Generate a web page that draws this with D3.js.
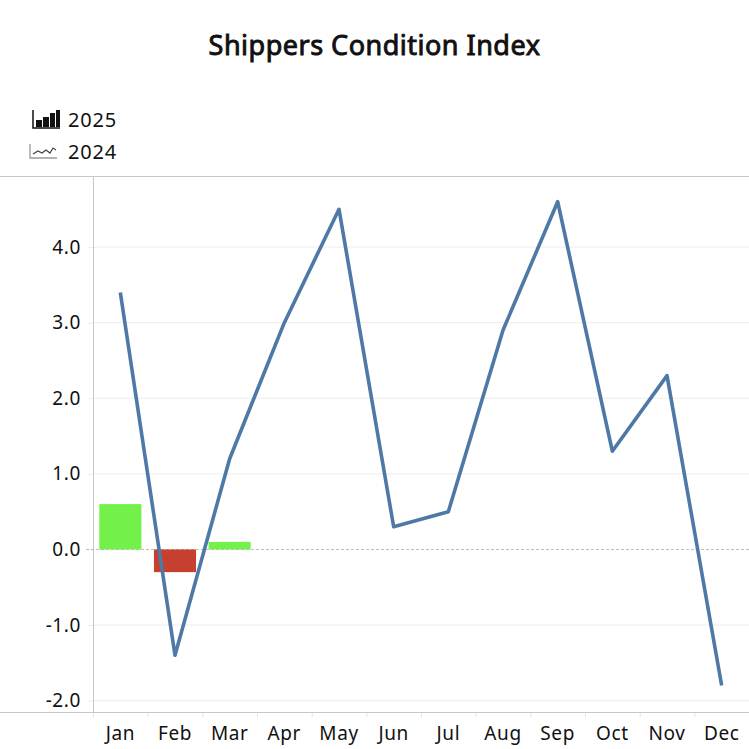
<!DOCTYPE html>
<html>
<head>
<meta charset="utf-8">
<script src="https://cdn.jsdelivr.net/npm/d3@7"></script>
<style>
  html, body { margin: 0; padding: 0; background: #fff; }
  svg { display: block; font-family: "Noto Sans", sans-serif; }
</style>
</head>
<body>
<svg id="chart"></svg>
<script>
// Shippers Condition Index - 2025 bars over 2024 line
const months = ["Jan", "Feb", "Mar", "Apr", "May", "Jun", "Jul", "Aug", "Sep", "Oct", "Nov", "Dec"];
const values2025 = [0.6, -0.3, 0.1];
const values2024 = [3.4, -1.4, 1.2, 3.0, 4.5, 0.3, 0.5, 2.9, 4.6, 1.3, 2.3, -1.8];
const yTicks = [-2, -1, 0, 1, 2, 3, 4];

const width = 749;
const height = 749;
const margin = { top: 176, right: 0, bottom: 37, left: 93 };

const svg = d3.select("#chart")
    .attr("width", width)
    .attr("height", height);

const x = d3.scaleBand()
    .domain(months)
    .range([margin.left, width - margin.right])
    .paddingInner(0.23)
    .paddingOuter(0.115);

const xBand = d3.scaleBand()
    .domain(months)
    .range([margin.left, width - margin.right]);

const y = d3.scaleLinear()
    .domain([-2.15, 4.94])
    .range([height - margin.bottom, margin.top]);

// gridlines
svg.append("g")
    .selectAll("line")
    .data(yTicks.filter(function (d) { return d !== 0; }))
    .enter()
    .append("line")
    .attr("x1", margin.left)
    .attr("x2", width - margin.right)
    .attr("y1", function (d) { return y(d); })
    .attr("y2", function (d) { return y(d); })
    .attr("stroke", "#ececec")
    .attr("stroke-width", 1);

// frame lines
svg.append("line")
    .attr("x1", 0).attr("x2", width)
    .attr("y1", margin.top + 0.5).attr("y2", margin.top + 0.5)
    .attr("stroke", "#c8c8c8");
svg.append("line")
    .attr("x1", 0).attr("x2", width)
    .attr("y1", height - margin.bottom + 0.5).attr("y2", height - margin.bottom + 0.5)
    .attr("stroke", "#c8c8c8");
svg.append("line")
    .attr("x1", margin.left + 0.5).attr("x2", margin.left + 0.5)
    .attr("y1", margin.top).attr("y2", height - margin.bottom)
    .attr("stroke", "#c8c8c8");

// y axis labels (plain hyphen for negatives, like the source)
const yAxis = d3.axisLeft(y)
    .tickValues(yTicks)
    .tickSize(5)
    .tickPadding(7)
    .tickFormat(function (d) { return d.toFixed(1); });

svg.append("g")
    .attr("transform", "translate(" + margin.left + ",0)")
    .call(yAxis)
    .call(function (g) { g.select(".domain").remove(); })
    .call(function (g) { g.selectAll("line").attr("stroke", "#ececec"); })
    .call(function (g) {
        g.selectAll("text")
            .attr("font-size", "19px")
            .attr("letter-spacing", "0.6px")
            .attr("fill", "#111")
            .attr("font-family", "Noto Sans, sans-serif");
    });

// x axis: tick marks at band boundaries, labels centered
const xAxisG = svg.append("g")
    .attr("transform", "translate(0," + (height - margin.bottom) + ")");

xAxisG.selectAll(".sep")
    .data(months)
    .enter()
    .append("line")
    .attr("class", "sep")
    .attr("x1", function (d) { return xBand(d) + 0.5; })
    .attr("x2", function (d) { return xBand(d) + 0.5; })
    .attr("y1", 1)
    .attr("y2", 5)
    .attr("stroke", "#e2e2e2");

xAxisG.selectAll(".lbl")
    .data(months)
    .enter()
    .append("text")
    .attr("class", "lbl")
    .attr("x", function (d) { return xBand(d) + xBand.bandwidth() / 2; })
    .attr("y", 28)
    .attr("text-anchor", "middle")
    .attr("font-size", "19px")
    .attr("letter-spacing", "0.6px")
    .attr("fill", "#111")
    .text(function (d) { return d; });

// zero reference
svg.append("line")
    .attr("x1", margin.left - 7)
    .attr("x2", width - margin.right)
    .attr("y1", y(0))
    .attr("y2", y(0))
    .attr("stroke", "#bdbdbd")
    .attr("stroke-width", 1)
    .attr("stroke-dasharray", "3 2");

// 2025 bars
const barData = values2025.map(function (v, i) { return { month: months[i], value: v }; });
svg.append("g")
    .selectAll("rect")
    .data(barData)
    .enter()
    .append("rect")
    .attr("x", function (d) { return x(d.month); })
    .attr("width", x.bandwidth())
    .attr("y", function (d) { return y(Math.max(0, d.value)); })
    .attr("height", function (d) { return Math.abs(y(d.value) - y(0)); })
    .attr("fill", function (d) { return d.value >= 0 ? "#74f04b" : "#c5402f"; });

// 2024 line
const lineData = values2024.map(function (v, i) { return { month: months[i], value: v }; });
const line = d3.line()
    .x(function (d) { return xBand(d.month) + xBand.bandwidth() / 2; })
    .y(function (d) { return y(d.value); });

svg.append("path")
    .datum(lineData)
    .attr("d", line)
    .attr("fill", "none")
    .attr("stroke", "#4e79a7")
    .attr("stroke-width", 3.6)
    .attr("stroke-linejoin", "round")
    .attr("stroke-linecap", "butt");

// title
svg.append("text")
    .attr("x", width / 2)
    .attr("y", 55)
    .attr("text-anchor", "middle")
    .attr("font-size", "27px")
    .attr("font-weight", "normal")
    .attr("letter-spacing", "0.5px")
    .attr("stroke", "#111")
    .attr("stroke-width", 0.9)
    .attr("fill", "#111")
    .text("Shippers Condition Index");

// legend
const legend = svg.append("g");
const barIcon = legend.append("g").attr("transform", "translate(33,110)");
barIcon.append("path")
    .attr("d", "M0,0 V18 H27")
    .attr("fill", "none")
    .attr("stroke", "#111")
    .attr("stroke-width", 1.5);
[[3, 10, 6], [10, 7, 6], [17, 3, 5], [23, 0, 4]].forEach(function (b) {
    barIcon.append("rect")
        .attr("x", b[0]).attr("y", b[1])
        .attr("width", b[2]).attr("height", 17 - b[1])
        .attr("fill", "#111");
});
legend.append("text")
    .attr("x", 68).attr("y", 127)
    .attr("font-size", "20px")
    .attr("letter-spacing", "0.8px")
    .attr("fill", "#111")
    .text("2025");

const lineIcon = legend.append("g").attr("transform", "translate(30,144)");
lineIcon.append("path")
    .attr("d", "M0,0 V14 H27")
    .attr("fill", "none")
    .attr("stroke", "#999")
    .attr("stroke-width", 1.3);
lineIcon.append("path")
    .attr("d", "M3,10 L8,7 L12,9 L16,6 L20,9 L23,4 L26,6")
    .attr("fill", "none")
    .attr("stroke", "#444")
    .attr("stroke-width", 1.2);
legend.append("text")
    .attr("x", 68).attr("y", 159)
    .attr("font-size", "20px")
    .attr("letter-spacing", "0.8px")
    .attr("fill", "#111")
    .text("2024");
</script>
</body>
</html>
